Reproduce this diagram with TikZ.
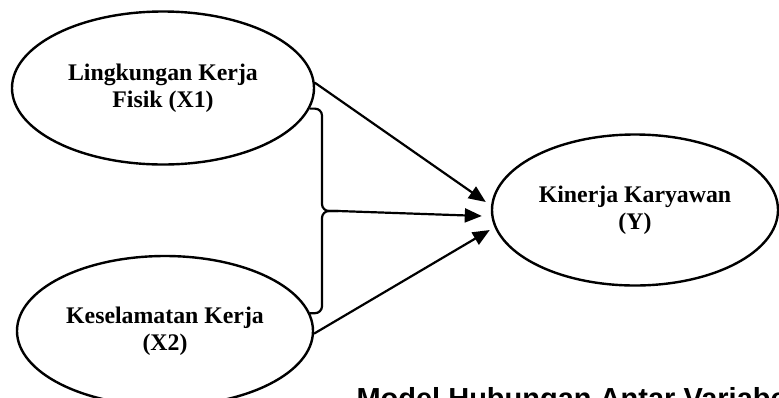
\documentclass[tikz,border=0pt]{standalone}
\usepackage{fontspec}
\setmainfont{Liberation Serif}[BoldFont={Liberation Serif Bold}]
\newfontfamily\arialfont{Liberation Sans Bold}
\usetikzlibrary{shapes.geometric, arrows.meta, positioning}

\begin{document}
\begin{tikzpicture}[x=1bp, y=-1bp, >={Triangle[length=17bp,width=14bp]},
    var/.style={draw, ellipse, line width=2.4bp, align=center, inner sep=0pt,
        font=\bfseries\fontsize{23.8bp}{27bp}\selectfont},
    link/.style={line width=2.2bp}]
    \useasboundingbox[fill=white] (0,0) rectangle (779,397);

    \node [var, minimum width=302bp, minimum height=153bp] (x1) at (163,88) {Lingkungan Kerja\\Fisik (X1)};
    \node [var, minimum width=296bp, minimum height=150bp] (x2) at (165,331) {Keselamatan Kerja\\(X2)};
    \node [var, minimum width=286bp, minimum height=151bp] (y) at (635,210) {Kinerja Karyawan\\(Y)};
    \node [anchor=base west, font=\arialfont\fontsize{29bp}{33bp}\selectfont] (title) at (353,408) {Model Hubungan Antar Variabel};

    % brace joining X1 and X2
    \coordinate (cusp) at (338,211);
    \draw [link, rounded corners=7bp] (x1.-8) -| ([xshift=-16bp]cusp) -- (cusp);
    \draw [link, rounded corners=7bp] (x2.7) -| ([xshift=-16bp]cusp) -- (cusp);

    \draw [link, ->] (x1.2) -- ([xshift=-5bp, yshift=8bp]y.west);
    \draw [link, ->] (cusp) -- ([xshift=-9bp, yshift=-6bp]y.west);
    \draw [link, ->] (x2.-1) -- ([xshift=-1bp, yshift=-20bp]y.west);
\end{tikzpicture}
\end{document}
